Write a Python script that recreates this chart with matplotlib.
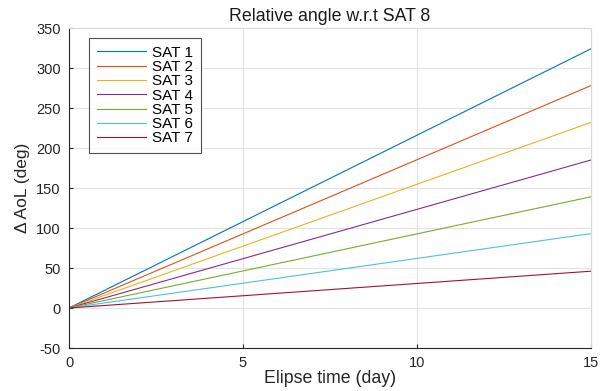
import matplotlib
matplotlib.use("Agg")
import matplotlib.pyplot as plt
import numpy as np

plt.rcParams['font.family'] = ['Liberation Sans', 'DejaVu Sans']
plt.rcParams['axes.unicode_minus'] = False

# Elapsed time (days) and the relative angle reached by each satellite at the end
days = [0, 15]
labels = ["SAT 1", "SAT 2", "SAT 3", "SAT 4", "SAT 5", "SAT 6", "SAT 7"]
start_deg = [0, 0, 0, 0, 0, 0, 0]
end_deg = [324, 278, 232, 185, 139, 93, 46]
colors = ["#0072BD", "#D95319", "#EDB120", "#7E2F8E", "#77AC30", "#4DBEEE", "#A2142F"]

fig = plt.figure(figsize=(6.12, 3.91), dpi=100)
ax = fig.add_axes([69 / 612, 1 - 348 / 391, (591 - 69) / 612, (348 - 28) / 391])

for lab, s, e, c in zip(labels, start_deg, end_deg, colors):
    ax.plot(days, [s, e], color=c, lw=0.8, label=lab)

ax.set_xlim(0, 15)
ax.set_ylim(-50, 350)
ax.set_xticks([0, 5, 10, 15])
ax.set_yticks(np.arange(-50, 351, 50))
ax.grid(True, color="#e3e3e3", lw=0.8)
ax.set_axisbelow(True)

for side in ("top", "right"):
    ax.spines[side].set_color("#d9d9d9")
    ax.spines[side].set_linewidth(0.8)
for side in ("left", "bottom"):
    ax.spines[side].set_color("#262626")
    ax.spines[side].set_linewidth(0.8)

ax.tick_params(direction="in", length=3, width=0.8, colors="#262626",
               labelsize=10.5, labelcolor="#262626", top=False, right=False)
ax.tick_params(axis="x", pad=6)
ax.tick_params(axis="y", pad=6)

ax.set_title("Relative angle w.r.t SAT 8", fontsize=12.8, color="#1a1a1a", pad=5)
ax.set_xlabel("Elipse time (day)", fontsize=12.8, color="#262626", labelpad=0)
ax.set_ylabel("\u0394 AoL (deg)", fontsize=12.5, color="#262626", labelpad=4)

leg = ax.legend(loc="upper left", bbox_to_anchor=(20 / 522, 1 - 10 / 320),
                fontsize=11, frameon=True, fancybox=False, handlelength=3.2,
                handletextpad=0.45, labelspacing=0.02, borderpad=0.5,
                borderaxespad=0)
leg.get_frame().set_edgecolor("#262626")
leg.get_frame().set_linewidth(0.8)

fig.savefig("out.png", dpi=100)
